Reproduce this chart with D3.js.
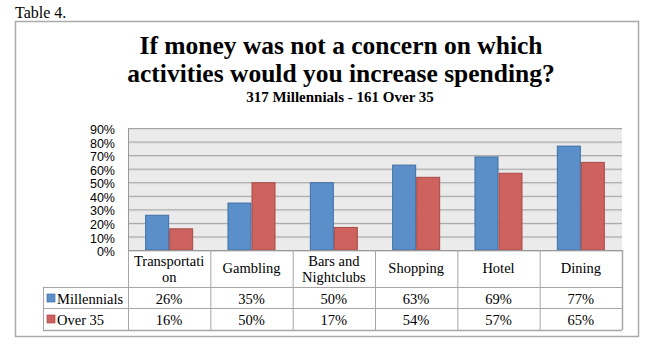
<!DOCTYPE html>
<html><head><meta charset="utf-8">
<script src="https://cdn.jsdelivr.net/npm/d3@7"></script>
<style>body{margin:0;background:#fff}svg{display:block}</style>
</head><body>
<svg id="c" width="661" height="355"></svg>
<script>
const categories = ["Transportation","Gambling","Bars and Nightclubs","Shopping","Hotel","Dining"];
const headerLines = [["Transportati","on"],["Gambling"],["Bars and","Nightclubs"],["Shopping"],["Hotel"],["Dining"]];
const seriesNames = ["Millennials","Over 35"];
const millennials = [26,35,50,63,69,77];
const over35 = [16,50,17,54,57,65];
const yTicks = [0,10,20,30,40,50,60,70,80,90];
const titleLines = ["If money was not a concern on which","activities would you increase spending?"];
const subtitle = "317 Millennials - 161 Over 35";

(function(){
const series = [millennials, over35];
const fills = ["#5b8fc9","#cd625e"];
const strokes = ["#3f6ea5","#a84a47"];

const svg = d3.select("#c");
const serif = "'Liberation Serif', 'Times New Roman', serif";
const sans = "'Liberation Sans', Arial, sans-serif";

svg.append("text").attr("x",15).attr("y",18).attr("font-family",serif).attr("font-size",16).text("Table 4.");
svg.append("rect").attr("x",15.5).attr("y",21.5).attr("width",623).attr("height",315).attr("fill","#fff").attr("stroke","#aaa").attr("stroke-width",1.5);

titleLines.forEach((t,i)=>{
  svg.append("text").attr("x",341).attr("y",54+i*28).attr("text-anchor","middle")
    .attr("font-family",serif).attr("font-weight","bold").attr("font-size",25.5).text(t);
});
svg.append("text").attr("x",340).attr("y",102).attr("text-anchor","middle")
  .attr("font-family",serif).attr("font-weight","bold").attr("font-size",15).text(subtitle);

const pL=128, pR=622, pT=128, pB=250;
const x = d3.scaleBand().domain(categories).range([pL,pR]).paddingInner(0).paddingOuter(0);
const xs = d3.scaleBand().domain(seriesNames).range([0,x.bandwidth()]).paddingInner(0).paddingOuter(0.715);
const y = d3.scaleLinear().domain([0,90]).range([pB,pT]);

svg.append("rect").attr("x",pL).attr("y",pT).attr("width",pR-pL).attr("height",pB-pT).attr("fill","#ebebeb");
const g = svg.append("g");
yTicks.forEach(t=>{
  g.append("line").attr("x1",pL).attr("x2",pR).attr("y1",y(t)+1.5).attr("y2",y(t)+1.5).attr("stroke","#dcdcdc").attr("stroke-width",1);
  g.append("line").attr("x1",pL).attr("x2",pR).attr("y1",y(t)+0.5).attr("y2",y(t)+0.5).attr("stroke","#a3a3a3").attr("stroke-width",1);
});

const yAxis = d3.axisLeft(y).tickValues(yTicks).tickFormat(d=>d+"%").tickSize(0).tickPadding(13);
const ya = svg.append("g").attr("transform",`translate(${pL},0)`).call(yAxis);
ya.select(".domain").attr("stroke","#999");
ya.selectAll("text").attr("font-family",sans).attr("font-size",12.5).attr("fill","#000").attr("dy","0.45em");

series.forEach((vals,si)=>{
  svg.append("g").selectAll("rect").data(vals).join("rect")
    .attr("x",(d,i)=>x(categories[i])+xs(seriesNames[si])+0.5)
    .attr("width",xs.bandwidth()-1)
    .attr("y",d=>y(d)+0.5)
    .attr("height",d=>y(0)-y(d)-0.5)
    .attr("fill",fills[si]).attr("stroke",strokes[si]).attr("stroke-width",1);
});

const rowTop=[250,287,308,330];
const legLeft=43;
const tg = svg.append("g");
const lc="#a6a6a6";
tg.append("line").attr("x1",pL).attr("x2",pR).attr("y1",rowTop[0]+0.5).attr("y2",rowTop[0]+0.5).attr("stroke","#999");
[1,2,3].forEach(r=>tg.append("line").attr("x1",legLeft).attr("x2",pR).attr("y1",rowTop[r]+0.5).attr("y2",rowTop[r]+0.5).attr("stroke",lc).attr("stroke-width",r===3?1.5:1));
tg.append("line").attr("x1",legLeft+0.5).attr("x2",legLeft+0.5).attr("y1",rowTop[1]).attr("y2",rowTop[3]).attr("stroke",lc);
categories.forEach(c=>{
  tg.append("line").attr("x1",x(c)+0.5).attr("x2",x(c)+0.5).attr("y1",rowTop[0]).attr("y2",rowTop[3]).attr("stroke",lc);
});
tg.append("line").attr("x1",pR+0.5).attr("x2",pR+0.5).attr("y1",rowTop[0]).attr("y2",rowTop[3]).attr("stroke",lc).attr("stroke-width",1.5);

headerLines.forEach((lines,i)=>{
  const cx = x(categories[i])+x.bandwidth()/2;
  const t = tg.append("text").attr("text-anchor","middle").attr("font-family",serif).attr("font-size",14.5);
  const y0 = lines.length===1 ? 273 : 266;
  lines.forEach((l,j)=>t.append("tspan").attr("x",cx).attr("y",y0+j*15.5).text(l));
});
series.forEach((vals,si)=>{
  const by = si===0?304:325;
  tg.append("rect").attr("x",47).attr("y",by-10).attr("width",8).attr("height",8).attr("fill",fills[si]).attr("stroke",strokes[si]).attr("stroke-width",0.7);
  tg.append("text").attr("x",57).attr("y",by).attr("font-family",serif).attr("font-size",14.5).text(seriesNames[si]);
  vals.forEach((v,i)=>{
    tg.append("text").attr("x",x(categories[i])+x.bandwidth()/2).attr("y",by).attr("text-anchor","middle")
      .attr("font-family",serif).attr("font-size",14.5).text(v+"%");
  });
});
})();
</script>
</body></html>
